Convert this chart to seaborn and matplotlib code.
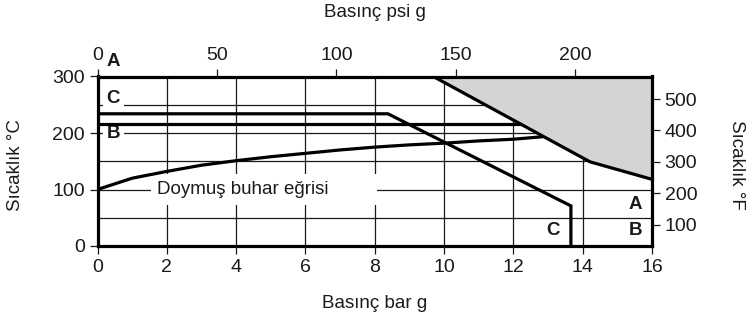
import numpy as np
import pandas as pd
import matplotlib
matplotlib.use("Agg")
import matplotlib.pyplot as plt
import seaborn as sns
from matplotlib.ticker import MultipleLocator, FixedLocator

# --- data -------------------------------------------------------------
# saturated steam curve (bar g -> °C)
sat_bar = [0, 1, 2, 3, 4, 5, 6, 7, 8, 9, 10, 11, 12, 12.86]
sat_temp = [100, 120, 132, 143, 151, 158, 164, 170, 175, 179, 182, 186, 189, 193.5]

# upper operating limit (boundary of the shaded area, curve A)
limit_bar = [9.69, 14.21, 16.0]
limit_temp = [300, 149, 118]

# curve B
curve_b_bar = [0, 12.23]
curve_b_temp = [216, 216]

# curve C
curve_c_bar = [0, 8.38, 13.66, 13.66]
curve_c_temp = [234, 234, 71, 0]

bar_ticks = [0, 2, 4, 6, 8, 10, 12, 14, 16]
degc_ticks = [0, 100, 200, 300]
degf_ticks = [100, 200, 300, 400, 500]
psi_ticks = [0, 50, 100, 150, 200]

BAR_TO_PSI = 14.5038


def c_to_f(c):
    return c * 9.0 / 5.0 + 32.0


# --- style ------------------------------------------------------------
sns.set_theme(style="white")
plt.rcParams["font.family"] = ["Liberation Sans", "DejaVu Sans"]
plt.rcParams["text.color"] = "#1a1a1a"
plt.rcParams["axes.labelcolor"] = "#1a1a1a"
plt.rcParams["xtick.color"] = "#1a1a1a"
plt.rcParams["ytick.color"] = "#1a1a1a"

TICK_FS = 14
TEXT_FS = 13.5
LINE_W = 2.3
SPINE_W = 2.3
GRID_C = "#1a1a1a"

fig = plt.figure(figsize=(7.5, 3.2), dpi=100)
ax = fig.add_axes([97.5 / 750, 1 - 246 / 320, (652 - 97.5) / 750, (246 - 76.5) / 320])
ax.set_xlim(0, 16)
ax.set_ylim(0, 300)

# grid: every 2 bar, every 50 °C
ax.set_xticks(bar_ticks)
ax.set_yticks(degc_ticks)
ax.yaxis.set_minor_locator(FixedLocator([50, 150, 250]))
ax.grid(True, which="both", color=GRID_C, lw=0.9)
ax.set_axisbelow(True)
ax.tick_params(axis="both", which="minor", length=0)
ax.tick_params(axis="both", which="major", direction="out", length=6, width=0.9,
               labelsize=TICK_FS, pad=3, colors="#1a1a1a")
ax.tick_params(axis="x", bottom=True)
ax.tick_params(axis="y", left=True)

for side in ["left", "right", "top", "bottom"]:
    ax.spines[side].set_linewidth(SPINE_W)
    ax.spines[side].set_color("black")
    ax.spines[side].set_zorder(5)

# shaded region above the limit line
ax.fill_between(limit_bar, limit_temp, 300, color="#d3d4d6", lw=0, zorder=1)

line_kw = dict(estimator=None, sort=False, color="black", lw=LINE_W, legend=False, ax=ax)
sns.lineplot(x=sat_bar, y=sat_temp, **line_kw)
sns.lineplot(x=limit_bar, y=limit_temp, **line_kw)
sns.lineplot(x=curve_b_bar, y=curve_b_temp, **line_kw)
sns.lineplot(x=curve_c_bar, y=curve_c_temp, **line_kw)
for ln in ax.lines:
    ln.set_solid_joinstyle("miter")
    ln.set_solid_capstyle("butt")
    ln.set_zorder(3)

# labels inside the plot
box = dict(boxstyle="square,pad=0.2", fc="white", ec="none")
ax.text(0.46, 261, "C", fontsize=TEXT_FS, fontweight="bold", ha="center", va="center",
        bbox=box, zorder=2)
ax.text(0.46, 200, "B", fontsize=TEXT_FS, fontweight="bold", ha="center", va="center",
        bbox=box, zorder=2)
ax.text(0.46, 327, "A", fontsize=TEXT_FS, fontweight="bold", ha="center", va="center",
        clip_on=False, zorder=2)
ax.text(1.72, 100, "Doymuş buhar eğrisi        ", fontsize=TEXT_FS, ha="left", va="center",
        bbox=dict(boxstyle="square,pad=0.35", fc="white", ec="none"), zorder=2)
ax.text(15.52, 74, "A", fontsize=TEXT_FS, fontweight="bold", ha="center", va="center", zorder=2)
ax.text(15.52, 27, "B", fontsize=TEXT_FS, fontweight="bold", ha="center", va="center", zorder=2)
ax.text(13.14, 27, "C", fontsize=TEXT_FS, fontweight="bold", ha="center", va="center", zorder=2)

# secondary axes: °F on the right, psi g on top
ax_f = ax.twinx()
ax_f.set_ylim(c_to_f(0), c_to_f(300))
ax_f.set_yticks(degf_ticks)
ax_f.tick_params(axis="y", direction="out", length=6, width=0.9, labelsize=TICK_FS, pad=3,
                 right=True, colors="#1a1a1a")
ax_f.grid(False)

ax_psi = ax.twiny()
ax_psi.set_xlim(0, 16 * BAR_TO_PSI)
ax_psi.set_xticks(psi_ticks)
ax_psi.tick_params(axis="x", direction="out", length=6, width=0.9, labelsize=TICK_FS, pad=3,
                   top=True, colors="#1a1a1a")
ax_psi.grid(False)

for tw in (ax_f, ax_psi):
    for side in tw.spines:
        tw.spines[side].set_visible(False)

# axis titles
ax.set_xlabel("Basınç bar g", fontsize=TEXT_FS, va="center")
ax.xaxis.set_label_coords(0.5005, -0.338)
ax.set_ylabel("Sıcaklık °C", fontsize=TEXT_FS, va="center")
ax.yaxis.set_label_coords(-0.147, 0.478)
ax_psi.set_xlabel("Basınç psi g", fontsize=TEXT_FS, va="center")
ax_psi.xaxis.set_label_coords(0.5005, 1.378)
ax_f.set_ylabel("Sıcaklık °F", fontsize=TEXT_FS, rotation=270, va="center")
ax_f.yaxis.set_label_coords(1.1515, 0.48)

fig.savefig("out.png", dpi=100, facecolor="white")
